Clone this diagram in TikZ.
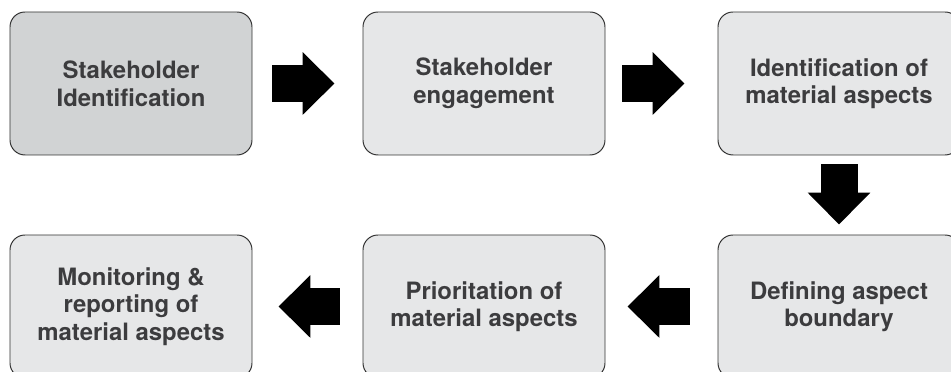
\documentclass[tikz,border=0pt]{standalone}
\usepackage{fontspec}
\setmainfont{TeX Gyre Heros}
\usetikzlibrary{arrows.meta,positioning}
\definecolor{boxgray}{RGB}{230,231,232}
\definecolor{startgray}{RGB}{209,211,212}
\definecolor{edgegray}{RGB}{50,50,50}
\definecolor{labelgray}{RGB}{60,60,62}
\tikzset{
  box/.style={
    rounded corners=0.375cm,
    draw=edgegray,
    line width=0.7pt,
    fill=boxgray,
    minimum width=6.05cm,
    minimum height=3.575cm,
    inner sep=0pt,
    align=center,
    text=labelgray,
    font=\fontsize{17}{19.6}\selectfont\bfseries
  },
  startbox/.style={box, fill=startgray},
  flowarrow/.style={line width=0.925cm, draw=black,
    -{Triangle[length=0.8cm, width=1.525cm]}}
}

\begin{document}
\begin{tikzpicture}
  \clip (0,0) rectangle (23.775,9.3);
  % top row, left to right
  \node[startbox] (ident) at (3.275,7.2125) {Stakeholder\\Identification};
  \node[box] (engage) at (12.1,7.2125) {Stakeholder\\engagement};
  \node[box] (aspects) at (20.975,7.2125) {Identification of\\material aspects};
  % bottom row, right to left
  \node[box] (bound) at (20.975,1.6375) {Defining aspect\\boundary};
  \node[box] (prio) at (12.1,1.6375) {Prioritation of\\material aspects};
  \node[box] (report) at (3.275,1.6375) {Monitoring \&\\reporting of\\material aspects};
  % block arrows between the steps
  \draw[flowarrow, shorten <=0.5cm, shorten >=0.7cm] (ident) -- (engage);
  \draw[flowarrow, shorten <=0.425cm, shorten >=0.825cm] (engage) -- (aspects);
  \draw[flowarrow, shorten <=0.225cm, shorten >=0.25cm] (aspects) -- (bound);
  \draw[flowarrow, shorten <=0.7cm, shorten >=0.55cm] (bound) -- (prio);
  \draw[flowarrow, shorten <=0.575cm, shorten >=0.65cm] (prio) -- (report);
\end{tikzpicture}
\end{document}
